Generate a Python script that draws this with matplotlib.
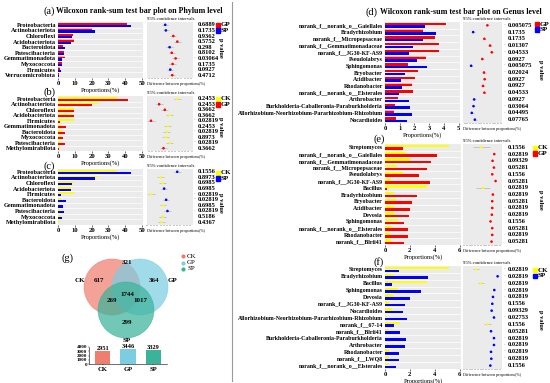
import matplotlib.pyplot as plt
import matplotlib.transforms as mtransforms
from matplotlib.patches import Circle, Rectangle
from matplotlib.lines import Line2D
from matplotlib.ticker import MultipleLocator, NullFormatter
import numpy as np

plt.rcParams['font.family'] = ['Liberation Serif', 'DejaVu Serif']
plt.rcParams['font.weight'] = 'bold'

# ---- data -------------------------------------------------------------
# (a) phylum, GP vs SP
a_taxa = ['Proteobacteria', 'Actinobacteriota', 'Chloroflexi', 'Acidobacteriota', 'Bacteroidota',
          'Patescibacteria', 'Gemmatimonadota', 'Myxococcota', 'Firmicutes', 'Verrucomicrobiota']
a_gp = [41.1, 20.0, 8.7, 9.3, 3.2, 3.4, 4.0, 2.4, 1.0, 0.6]
a_sp = [43.1, 21.7, 8.3, 7.5, 4.2, 3.4, 2.4, 2.2, 1.6, 0.6]
a_diff = [-2.0, -1.79, 0.53, 1.79, -0.63, 0.05, 1.26, 0.32, -0.42, 0.21]
a_p = ['0.6889', '0.1735', '0.9362', '0.5752', '0.298', '0.8102', '0.03064', '0.1735', '0.0927', '0.4712']

# (b) phylum, CK vs GP
b_taxa = ['Proteobacteria', 'Actinobacteriota', 'Chloroflexi', 'Acidobacteriota', 'Firmicutes',
          'Gemmatimonadota', 'Bacteroidota', 'Myxococcota', 'Patescibacteria', 'Methylomirabilota']
b_ck = [34.9, 24.1, 9.4, 8.4, 9.4, 2.0, 2.5, 2.0, 1.4, 1.4]
b_gp = [41.4, 20.4, 9.4, 9.8, 1.4, 4.5, 4.1, 2.8, 4.1, 0.3]
b_diff = [6.5, -3.5, -0.37, 2.4, -8.0, 1.3, 0.74, 0.2, 2.4, -1.1]
b_p = ['0.2453', '0.2453', '0.3662', '0.3662', '0.02819', '0.2453', '0.02819', '0.8973', '0.02819', '0.3662']

# (c) phylum, CK vs SP
c_taxa = ['Proteobacteria', 'Actinobacteriota', 'Chloroflexi', 'Acidobacteriota', 'Firmicutes',
          'Bacteroidota', 'Gemmatimonadota', 'Patescibacteria', 'Myxococcota', 'Methylomirabilota']
c_ck = [34.9, 24.1, 9.4, 8.0, 9.4, 1.8, 2.0, 1.4, 1.8, 1.0]
c_sp = [43.3, 22.2, 8.4, 7.8, 1.8, 4.5, 2.7, 3.5, 2.3, 0.2]
c_diff = [8.0, -1.8, -0.8, 0.2, -7.4, 1.4, -0.4, 2.2, -0.6, -1.4]
c_p = ['0.1556', '0.8973', '0.6985', '0.6985', '0.02819', '0.02819', '0.6985', '0.02819', '0.5186', '0.4367']

# (d) genus, GP vs SP
d_taxa = ['norank_f__norank_o__Gaiellales', 'Bradyrhizobium', 'norank_f__Micropepsaceae',
          'norank_f__Gemmatimonadaceae', 'norank_f__JG30-KF-AS9', 'Pseudolabrys', 'Sphingomonas',
          'Bryobacter', 'Acidibacter', 'Rhodanobacter', 'norank_f__norank_o__Elsterales', 'Arthrobacter',
          'Burkholderia-Caballeronia-Paraburkholderia',
          'Allorhizobium-Neorhizobium-Pararhizobium-Rhizobium', 'Nocardioides']
d_gp = [4.17, 2.60, 3.41, 3.69, 3.66, 2.79, 1.57, 2.24, 2.05, 1.84, 1.87, 0.88, 0.69, 0.58, 0.78]
d_sp = [2.70, 3.46, 2.56, 1.91, 1.61, 2.17, 2.86, 1.38, 1.06, 1.15, 0.92, 1.64, 1.71, 1.82, 1.47]
d_diff = [1.49, -0.92, 0.98, 1.95, 2.24, 0.63, -1.26, 0.92, 1.03, 0.75, 0.98, -0.75, -0.86, -1.15, -0.63]
d_p = ['0.005075', '0.1735', '0.1735', '0.01307', '0.04533', '0.0927', '0.005075', '0.02024',
       '0.0927', '0.0927', '0.04533', '0.0927', '0.03064', '0.04495', '0.07765']

# (e) genus, CK vs GP
e_taxa = ['Streptomyces', 'norank_f__norank_o__Gaiellales', 'norank_f__Gemmatimonadaceae',
          'norank_f__Micropepsaceae', 'Pseudolabrys', 'norank_f__JG30-KF-AS9', 'Bacillus',
          'Bradyrhizobium', 'Bryobacter', 'Acidibacter', 'Devosia', 'Sphingomonas',
          'norank_f__norank_o__Elsterales', 'Rhodanobacter', 'norank_f__Blrii41']
e_ck = [5.16, 1.66, 2.04, 0.98, 1.44, 0.49, 3.34, 0.76, 0.92, 0.76, 0.76, 1.03, 0.54, 0.43, 0.49]
e_gp = [1.44, 4.16, 3.67, 3.40, 2.74, 3.64, 0.19, 2.58, 2.20, 1.98, 1.93, 1.55, 1.85, 1.82, 1.52]
e_diff = [-3.77, 2.46, 1.64, 2.30, 1.48, 3.11, -2.95, 1.80, 1.48, 1.48, 1.31, 0.66, 1.48, 1.48, 1.15]
e_ci = [4.0, 0.4, 0.4, 0.4, 0.4, 0.4, 3.3, 0.4, 0.4, 0.4, 0.4, 0.4, 0.4, 0.4, 0.4]
e_p = ['0.1556', '0.02819', '0.09329', '0.05281', '0.1556', '0.05281', '0.02819', '0.02819',
       '0.05281', '0.02819', '0.02819', '0.1556', '0.05281', '0.02819', '0.05281']

# (f) genus, CK vs SP
f_taxa = ['Streptomyces', 'Bradyrhizobium', 'Bacillus', 'Sphingomonas', 'Devosia',
          'norank_f__JG30-KF-AS9', 'Nocardioides', 'Allorhizobium-Neorhizobium-Pararhizobium-Rhizobium',
          'norank_f__67-14', 'norank_f__Blrii41', 'Burkholderia-Caballeronia-Paraburkholderia',
          'Arthrobacter', 'Rhodanobacter', 'norank_f__LWQ8', 'norank_f__norank_o__Elsterales']
f_ck = [5.16, 0.76, 3.34, 1.03, 0.76, 0.35, 0.57, 0.14, 1.20, 0.35, 0.02, 0.02, 0.35, 0.33, 0.35]
f_sp = [1.11, 3.45, 0.54, 2.85, 2.04, 1.58, 1.47, 1.80, 0.70, 1.22, 1.69, 1.63, 1.11, 1.11, 0.90]
f_diff = [-4.06, 2.71, -2.6, 1.67, 1.25, 1.04, 0.83, 1.56, -0.52, 0.63, 1.56, 1.56, 0.63, 0.73, 0.42]
f_ci = [1.0, 0.3, 1.0, 0.3, 0.3, 0.3, 0.3, 0.3, 1.0, 0.3, 0.3, 0.3, 0.3, 0.3, 0.3]
f_p = ['0.02819', '0.02819', '0.02819', '0.02819', '0.02819', '0.1556', '0.09329', '0.02753',
       '0.1556', '0.05281', '0.02819', '0.02819', '0.02819', '0.02819', '0.1556']

# (g) venn of genera
venn_groups = ['CK', 'GP', 'SP']
venn_counts = {'CK': 617, 'GP': 364, 'SP': 299, 'CK&GP': 321, 'CK&SP': 269, 'GP&SP': 1017, 'all': 1744}
venn_totals = [2951, 3446, 3329]

RED, BLUE, YELLOW = '#FF0000', '#0000FF', '#FFFF00'
venn_colors = ['#EE7E6E', '#7CCDE2', '#3BB39B']

W, H = 550, 383
fig = plt.figure(figsize=(5.5, 3.83), dpi=100)


def px_axes(x0, y0, x1, y1):
    return fig.add_axes([x0 / W, 1 - y1 / H, (x1 - x0) / W, (y1 - y0) / H])


def ftext(x, y, s, **kw):
    fig.text(x / W, 1 - y / H, s, **kw)


def legend_box(x, y, names, colors):
    for k, (nm, col) in enumerate(zip(names, colors)):
        yy = y + k * 5.5
        fig.add_artist(Rectangle((x / W, 1 - (yy + 2) / H), 4 / W, 4 / H,
                                 transform=fig.transFigure, color=col))
        ftext(x + 4.5, yy, nm, fontsize=5, va='center', ha='left')


def panel(bar_box, ci_box, taxa, v1, v2, c1, c2, names, diff, pos_col, neg_col, ci, pvals,
          ci_lim, xmax, xstep, lab_fs, pv_x, leg_xy, pval_xy):
    n = len(taxa)
    y = np.arange(n)
    ax = px_axes(*bar_box)
    ax.set_facecolor('#EBEBEB')
    ax.barh(y - 0.2, v1, height=0.38, color=c1)
    ax.barh(y + 0.2, v2, height=0.38, color=c2)
    for k in range(n - 1):
        ax.axhline(k + 0.5, color='white', lw=0.5)
    ax.set_ylim(n - 0.5, -0.5)
    ax.set_xlim(0, xmax)
    ax.xaxis.set_major_locator(MultipleLocator(xstep))
    ax.set_yticks(y)
    ax.set_yticklabels(taxa, fontsize=lab_fs)
    ax.tick_params(axis='y', length=0, pad=1.5)
    ax.tick_params(axis='x', length=1.2, width=0.4, pad=1, labelsize=4.8)
    for s in ax.spines.values():
        s.set_visible(False)
    ax.set_xlabel('Proportions(%)', fontsize=4.6, labelpad=0.5)

    ax2 = px_axes(*ci_box)
    ax2.set_facecolor('#EBEBEB')
    cols = [pos_col if d >= 0 else neg_col for d in diff]
    ax2.errorbar(diff, y, xerr=ci, fmt='none', ecolor='#A8A8A8', elinewidth=0.4, capsize=0)
    ax2.scatter(diff, y, s=3.5, c=cols, zorder=3, linewidths=0)
    ax2.set_ylim(n - 0.5, -0.5)
    ax2.set_xlim(*ci_lim)
    ax2.set_yticks([])
    ax2.xaxis.set_major_locator(MultipleLocator((ci_lim[1] - ci_lim[0]) / 14))
    ax2.xaxis.set_major_formatter(NullFormatter())
    ax2.tick_params(axis='x', length=0.8, width=0.3, pad=0.3)
    for s in ax2.spines.values():
        s.set_visible(False)
    ax2.set_title('95% confidence intervals', fontsize=3.3, pad=1.5, loc='left')
    ax2.set_xlabel('Difference between proportions(%)', fontsize=3.0, labelpad=1.5, loc='left')

    tr = mtransforms.blended_transform_factory(fig.transFigure, ax2.transData)
    for k, p in enumerate(pvals):
        ax2.text(pv_x / W, k, p, transform=tr, fontsize=4.7, va='center', ha='left')
        if float(p) < 0.05:
            ax2.text((pv_x - 4) / W, k, '-', transform=tr, fontsize=3.5, va='center',
                     ha='left', color='#E06060', fontweight='normal')
    legend_box(leg_xy[0], leg_xy[1], names, [c1, c2])
    ftext(pval_xy[0], pval_xy[1], 'p value', fontsize=4.6, rotation=-90, ha='center', va='center')


# ---- titles -----------------------------------------------------------
ftext(43, 11, '(a)', fontsize=7.5, fontweight='normal', va='center')
ftext(56, 11, 'Wilcoxon rank-sum test bar plot on Phylum level', fontsize=5.7, va='center')
ftext(366, 12, '(d)', fontsize=7.5, fontweight='normal', va='center')
ftext(380, 12, 'Wilcoxon rank-sum test bar plot on Genus level', fontsize=5.7, va='center')
ftext(44, 92, '(b)', fontsize=7.5, fontweight='normal', va='center')
ftext(44, 166, '(c)', fontsize=7.5, fontweight='normal', va='center')
ftext(374, 139, '(e)', fontsize=7.5, fontweight='normal', va='center')
ftext(373, 262, '(f)', fontsize=7.5, fontweight='normal', va='center')
ftext(62, 258, '(g)', fontsize=7.5, fontweight='normal', va='center')

fig.add_artist(Line2D([232 / W, 232 / W], [1 - 381 / H, 1 - 2 / H], transform=fig.transFigure,
                      color='#9A9A9A', lw=0.8))

# ---- phylum panels ----------------------------------------------------
panel((58, 22, 143, 78), (147, 22, 193, 78), a_taxa, a_gp, a_sp, RED, BLUE, ['GP', 'SP'],
      a_diff, RED, BLUE, 1.0, a_p, (-7.7, 6.7), 50.5, 10, 4.5, 198, (216, 25), (220, 48))
panel((58, 96, 143, 151), (147, 96, 193, 151), b_taxa, b_ck, b_gp, YELLOW, RED, ['CK', 'GP'],
      b_diff, YELLOW, RED, 2.0, b_p, (-10.2, 15.2), 50.5, 10, 4.5, 198, (216, 99), (221, 127))
panel((58, 169, 143, 225), (147, 169, 193, 225), c_taxa, c_ck, c_sp, YELLOW, BLUE, ['CK', 'SP'],
      c_diff, BLUE, YELLOW, 2.0, c_p, (-10, 17.4), 50.5, 10, 4.5, 198, (216, 173), (221, 203))

# ---- genus panels -----------------------------------------------------
panel((385, 22, 460, 123), (463, 22, 502, 123), d_taxa, d_gp, d_sp, RED, BLUE, ['GP', 'SP'],
      d_diff, RED, BLUE, 0.3, d_p, (-2.64, 3.97), 5.1, 1, 4.2, 508, (535, 24), (540, 70))
panel((385, 144, 461, 245), (463, 144, 502, 245), e_taxa, e_ck, e_gp, YELLOW, RED, ['CK', 'GP'],
      e_diff, RED, YELLOW, e_ci, e_p, (-12.6, 6.2), 6.1, 2, 4.2, 508, (533, 148), (540, 200))
panel((385, 266, 461, 369), (463, 266, 502, 369), f_taxa, f_ck, f_sp, YELLOW, BLUE, ['CK', 'SP'],
      f_diff, BLUE, YELLOW, f_ci, f_p, (-8.2, 4.1), 6.1, 2, 4.2, 508, (533, 270), (540, 320))

# ---- venn (g) ---------------------------------------------------------
axv = px_axes(60, 235, 200, 345)
axv.set_xlim(60, 200)
axv.set_ylim(345, 235)
axv.axis('off')
centers = [(112, 287), (140, 287), (126, 310)]
for (cx, cy), col in zip(centers, venn_colors):
    axv.add_patch(Circle((cx, cy), 28, facecolor=col, alpha=0.72, edgecolor=col, lw=0.5))
region_pos = {'CK': (99, 281), 'GP': (154, 281), 'SP': (127, 323), 'CK&GP': (127, 262),
              'CK&SP': (112, 301), 'GP&SP': (140, 301), 'all': (127, 294)}
for key, (tx, ty) in region_pos.items():
    axv.text(tx, ty, str(venn_counts[key]), fontsize=5, ha='center', va='center')
axv.text(80, 281, 'CK', fontsize=5, ha='center', va='center')
axv.text(173, 281, 'GP', fontsize=5, ha='center', va='center')
axv.text(127, 341, 'SP', fontsize=5, ha='center', va='center')
for k, (g, col) in enumerate(zip(venn_groups, venn_colors)):
    axv.scatter(183, 256 + k * 6.5, s=9, color=col, linewidths=0)
    axv.text(187, 256 + k * 6.5, g, fontsize=5, fontweight='normal', ha='left', va='center')

axt = px_axes(89, 347, 167, 364)
xb = np.arange(len(venn_groups))
axt.bar(xb, venn_totals, width=0.6, color=venn_colors)
for xi, v in zip(xb, venn_totals):
    axt.text(xi, v + 80, str(v), fontsize=4.6, ha='center', va='bottom')
axt.set_ylim(0, 4000)
axt.set_xlim(-0.55, 2.55)
axt.set_yticks([0, 1000, 2000, 3000, 4000])
axt.set_xticks(xb)
axt.set_xticklabels(venn_groups, fontsize=4.8)
axt.tick_params(axis='y', labelsize=3.6, length=1, width=0.3, pad=0.5)
axt.tick_params(axis='x', length=1, width=0.3, pad=1)
axt.spines['top'].set_visible(False)
axt.spines['right'].set_visible(False)
for s in ['left', 'bottom']:
    axt.spines[s].set_linewidth(0.4)

fig.savefig('out.png', dpi=100)
